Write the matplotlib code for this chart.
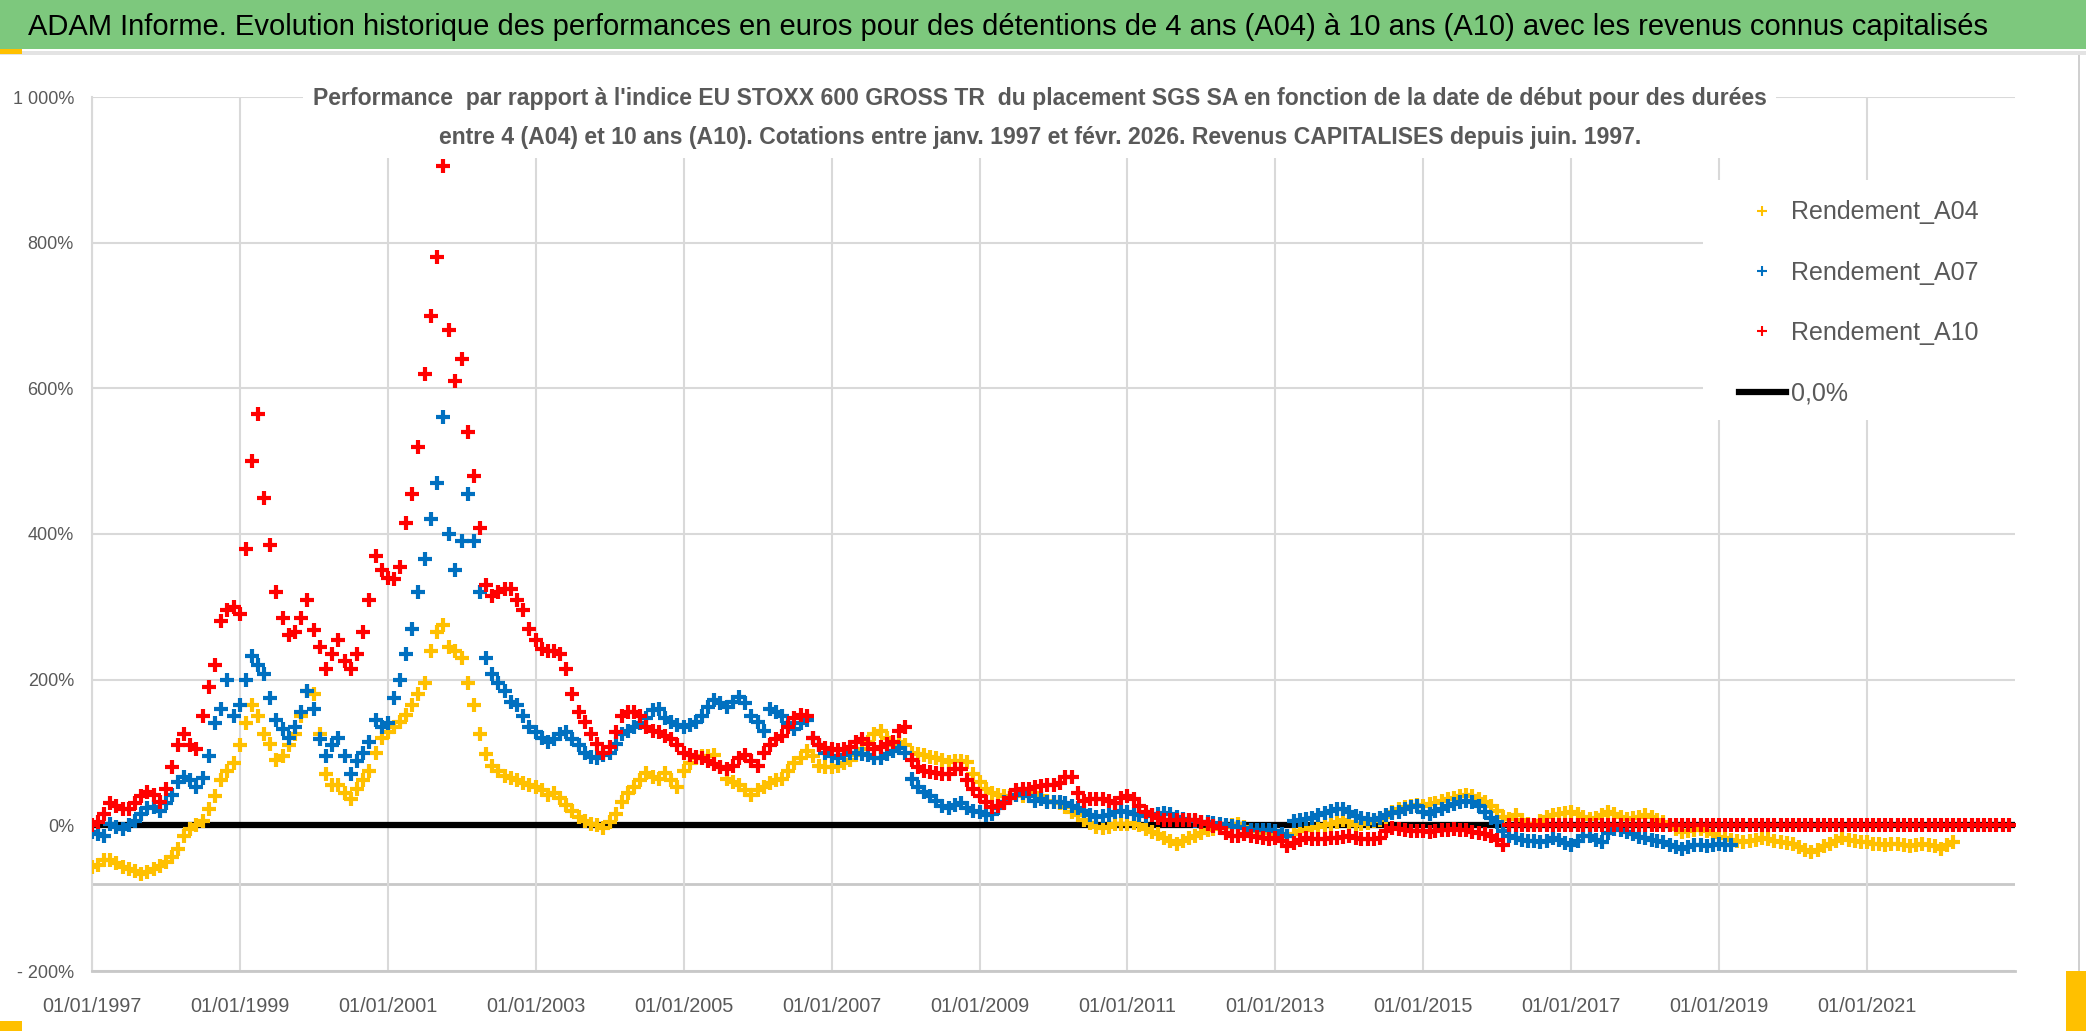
import pandas as pd
import matplotlib.pyplot as plt
import matplotlib.dates as mdates
from matplotlib.patches import Rectangle
from matplotlib.lines import Line2D
from matplotlib.ticker import FixedLocator, FuncFormatter

plt.rcParams['font.family'] = ['Liberation Sans', 'DejaVu Sans']

# valeurs mensuelles (en %), debut janv. 1997
a04 = [-57, -55, -48, -47, -52, -57, -60, -63, -67, -64, -60, -56,
       -50, -44, -32, -15, -5, 0, 6, 22, 40, 62, 75, 85,
       110, 140, 165, 150, 125, 112, 90, 95, 110, 125, 150, 185,
       180, 125, 70, 55, 55, 45, 36, 50, 62, 75, 100, 120,
       128, 135, 142, 151, 165, 180, 196, 240, 265, 275, 245, 240,
       230, 195, 165, 125, 98, 82, 75, 68, 65, 62, 58, 55,
       52, 48, 42, 44, 38, 28, 20, 12, 6, 2, 0, -3,
       5, 16, 32, 44, 52, 62, 72, 66, 64, 72, 62, 52,
       75, 85, 93, 95, 95, 96, 80, 64, 60, 55, 48, 42,
       48, 52, 58, 62, 64, 75, 85, 93, 102, 95, 82, 80,
       80, 82, 86, 90, 96, 105, 115, 125, 130, 120, 110, 115,
       110, 100, 98, 96, 94, 92, 90, 87, 88, 88, 87, 70,
       60, 50, 45, 42, 40, 40, 41, 40, 42, 44, 40, 34,
       32, 30, 25, 18, 14, 8, 3, -2, -4, -2, 2, 2,
       2, 3, 0, -5, -9, -12, -17, -22, -25, -22, -18, -15,
       -10, -6, -5, -4, -2, 0, 2, -2, -6, -8, -10, -11,
       -12, -14, -15, -12, -8, -6, -4, -2, 0, 2, 5, 8,
       4, 0, 2, 3, 6, 8, 12, 18, 22, 25, 27, 28,
       27, 29, 31, 34, 36, 38, 40, 41, 40, 36, 32, 26,
       20, 12, 9, 14, 8, 2, 0, 6, 12, 14, 16, 17,
       18, 16, 12, 9, 10, 14, 18, 16, 12, 9, 10, 12,
       14, 12, 8, 5, 0, -5, -9, -8, -6, -5, -8, -12,
       -16, -18, -20, -22, -23, -22, -20, -18, -19, -21, -23, -24,
       -26, -30, -34, -37, -34, -29, -26, -22, -18, -20, -22, -23,
       -23, -25, -26, -27, -26, -25, -27, -28, -27, -26, -27, -29,
       -32, -27, -23]

a07 = [-9, -12, -14, 2, -2, -5, 0, 6, 16, 24, 25, 20,
       30, 42, 60, 66, 62, 52, 65, 95, 140, 160, 200, 150,
       165, 200, 232, 220, 208, 175, 145, 132, 120, 135, 155, 185,
       160, 118, 95, 110, 120, 95, 70, 88, 100, 115, 145, 135,
       140, 175, 200, 235, 270, 320, 365, 420, 470, 560, 400, 350,
       390, 455, 390, 320, 230, 208, 195, 185, 170, 165, 150, 135,
       128, 120, 114, 118, 125, 128, 118, 110, 100, 94, 93, 96,
       100, 112, 125, 130, 135, 140, 148, 158, 160, 148, 142, 138,
       135, 138, 142, 150, 162, 172, 168, 162, 170, 176, 168, 150,
       142, 130, 160, 155, 150, 140, 132, 140, 145, 120, 110, 100,
       95, 92, 96, 100, 100, 98, 96, 93, 92, 98, 102, 106,
       100, 64, 52, 46, 40, 34, 27, 24, 28, 30, 24, 20,
       18, 14, 16, 24, 32, 38, 42, 44, 40, 34, 36, 32,
       32, 32, 30, 27, 24, 20, 14, 12, 13, 14, 18, 20,
       18, 16, 14, 13, 14, 16, 17, 15, 12, 9, 8, 6,
       4, 4, 3, 2, 0, -1, -2, -4, -6, -6, -6, -7,
       -8, -12, -14, 6, 8, 9, 10, 14, 17, 20, 22, 22,
       18, 13, 10, 9, 8, 10, 14, 17, 18, 22, 25, 27,
       18, 16, 20, 23, 26, 29, 32, 33, 32, 26, 18, 10,
       5, -8, -14, -18, -20, -21, -22, -23, -21, -18, -20, -24,
       -27, -22, -14, -15, -20, -23, -10, -5, -7, -9, -12, -16,
       -18, -20, -22, -23, -27, -30, -32, -30, -27, -27, -28, -27,
       -26, -27, -27]

a10 = [0, 5, 15, 30, 26, 23, 23, 30, 40, 46, 42, 32,
       50, 80, 110, 125, 110, 105, 150, 190, 220, 280, 295, 300,
       290, 380, 500, 565, 450, 385, 320, 285, 262, 265, 285, 310,
       268, 245, 215, 235, 254, 225, 215, 235, 265, 310, 370, 350,
       340, 338, 355, 415, 455, 520, 620, 700, 780, 905, 680, 610,
       640, 540, 480, 408, 330, 315, 320, 325, 325, 310, 295, 270,
       255, 242, 240, 240, 235, 215, 180, 155, 142, 125, 112, 100,
       108, 128, 150, 156, 155, 150, 135, 130, 128, 122, 118, 110,
       100, 96, 94, 92, 88, 84, 80, 78, 82, 92, 96, 88,
       82, 100, 110, 118, 123, 135, 148, 151, 150, 120, 110, 106,
       105, 104, 105, 108, 114, 119, 112, 105, 108, 112, 114, 130,
       135, 90, 80, 74, 73, 72, 70, 70, 78, 78, 62, 50,
       40, 32, 25, 27, 30, 38, 48, 50, 50, 52, 54, 56,
       56, 58, 66, 66, 45, 33, 36, 36, 36, 33, 31, 38,
       40, 36, 26, 18, 14, 10, 8, 8, 8, 8, 8, 7,
       5, 2, -1, -4, -10, -14, -15, -12, -14, -16, -18, -19,
       -18, -22, -28, -24, -20, -18, -19, -19, -19, -18, -17, -16,
       -15, -17, -19, -19, -19, -17, -8, -4, -5, -6, -8, -8,
       -8, -9, -8, -6, -6, -5, -6, -7, -9, -10, -12, -15,
       -20, -27] + [0] * 82

zero_line = [0, 0]
zero_dates = ['1997-01-01', '2023-01-01']

yticks = [-200, 0, 200, 400, 600, 800, 1000]

grey_txt = '#595959'
W, H = 2086, 1031
MS, MEW = 10.5, 3

fig = plt.figure(figsize=(W / 100, H / 100), dpi=100)

# bandeau vert du titre
fig.patches.append(Rectangle((0, 1 - 49 / H), 1, 49 / H, transform=fig.transFigure,
                             facecolor='#7DC87D', edgecolor='none', zorder=0))
fig.patches.append(Rectangle((0, 1 - 55 / H), 1, 4 / H, transform=fig.transFigure,
                             facecolor='#E3E3E3', edgecolor='none', zorder=0))
fig.text(1008 / W, 1 - 27 / H,
         "ADAM Informe. Evolution historique des performances en euros pour des détentions de 4 ans (A04) à 10 ans (A10) avec les revenus connus capitalisés",
         ha='center', va='center', fontsize=21, color='black')

ax = fig.add_axes([92 / W, 1 - 971 / H, (2015 - 92) / W, (971 - 97) / H])

d04 = pd.date_range('1997-01-01', periods=len(a04), freq='MS')
d07 = pd.date_range('1997-01-01', periods=len(a07), freq='MS')
d10 = pd.date_range('1997-01-01', periods=len(a10), freq='MS')

ax.plot(pd.to_datetime(zero_dates), zero_line, color='black', lw=4.5, zorder=2, label='0,0%')
ax.plot(d04, a04, ls='none', marker='+', ms=MS, mew=MEW, color='#FFC000', zorder=3, label='Rendement_A04')
ax.plot(d07, a07, ls='none', marker='+', ms=MS, mew=MEW, color='#0070C0', zorder=4, label='Rendement_A07')
ax.plot(d10, a10, ls='none', marker='+', ms=MS, mew=MEW, color='#FF0000', zorder=5, label='Rendement_A10')

ax.set_ylim(-200, 1000)
ax.set_xlim(pd.Timestamp('1997-01-01'), pd.Timestamp('2023-01-01'))
ax.yaxis.set_major_locator(FixedLocator(yticks))


def pct(v, pos):
    v = int(round(v))
    if v < 0:
        return '- ' + str(-v) + '%'
    if v >= 1000:
        return '1 000%'
    return str(v) + '%'


ax.yaxis.set_major_formatter(FuncFormatter(pct))
xt = pd.date_range('1997-01-01', '2021-01-01', freq='2YS')
ax.set_xticks(xt)
ax.xaxis.set_major_formatter(mdates.DateFormatter('%d/%m/%Y'))
ax.tick_params(length=0, colors=grey_txt)
ax.tick_params(axis='x', pad=19, labelsize=14.3)
ax.tick_params(axis='y', pad=13, labelsize=13)
ax.grid(True, color='#D9D9D9', lw=1.5, zorder=0)
ax.axhline(-80, color='#C8C8C8', lw=2, zorder=1)
for s in ['top', 'right']:
    ax.spines[s].set_visible(False)
ax.spines['left'].set_color('#D9D9D9')
ax.spines['left'].set_linewidth(1.5)
ax.spines['bottom'].set_color('#C8C8C8')
ax.spines['bottom'].set_linewidth(2)

# cadre blanc du sous-titre
fig.patches.append(Rectangle((303 / W, 1 - 158 / H), (1776 - 303) / W, 75 / H,
                             transform=fig.transFigure, facecolor='white', edgecolor='none', zorder=5))
fig.text(1040 / W, 1 - 99 / H,
         "Performance  par rapport à l'indice EU STOXX 600 GROSS TR  du placement SGS SA en fonction de la date de début pour des durées",
         ha='center', va='center', fontsize=16.6, fontweight='bold', color=grey_txt, zorder=6)
fig.text(1040 / W, 1 - 137 / H,
         "entre 4 (A04) et 10 ans (A10). Cotations entre janv. 1997 et févr. 2026. Revenus CAPITALISES depuis juin. 1997.",
         ha='center', va='center', fontsize=16.6, fontweight='bold', color=grey_txt, zorder=6)

# legende
fig.patches.append(Rectangle((1703 / W, 1 - 420 / H), (2015 - 1703) / W, 240 / H,
                             transform=fig.transFigure, facecolor='white', edgecolor='none', zorder=5))
handles = [Line2D([], [], ls='none', marker='+', ms=7, mew=1.5, color='#FFC000'),
           Line2D([], [], ls='none', marker='+', ms=7, mew=1.5, color='#0070C0'),
           Line2D([], [], ls='none', marker='+', ms=7, mew=1.5, color='#FF0000'),
           Line2D([], [], color='black', lw=4.5)]
labels = ['Rendement_A04', 'Rendement_A07', 'Rendement_A10', '0,0%']
leg = fig.legend(handles, labels, loc='upper left', bbox_to_anchor=(1726 / W, 1 - 188 / H),
                 frameon=False, fontsize=18, labelcolor=grey_txt, handlelength=1.9,
                 handletextpad=0.2, labelspacing=1.45, borderpad=0)
leg.set_zorder(7)

# bord du cadre et poignees de selection
fig.patches.append(Rectangle((2078 / W, 0), 2 / W, 1 - 55 / H, transform=fig.transFigure,
                             facecolor='#D0D0D0', edgecolor='none', zorder=1))
fig.patches.append(Rectangle((0, 0), 22 / W, 10 / H, transform=fig.transFigure,
                             facecolor='#FFC000', edgecolor='none', zorder=1))
fig.patches.append(Rectangle((2066 / W, 0), 20 / W, 60 / H, transform=fig.transFigure,
                             facecolor='#FFC000', edgecolor='none', zorder=1))
fig.patches.append(Rectangle((0, 1 - 54 / H), 22 / W, 5 / H, transform=fig.transFigure,
                             facecolor='#FFC000', edgecolor='none', zorder=1))

fig.savefig('out.png', dpi=100)
